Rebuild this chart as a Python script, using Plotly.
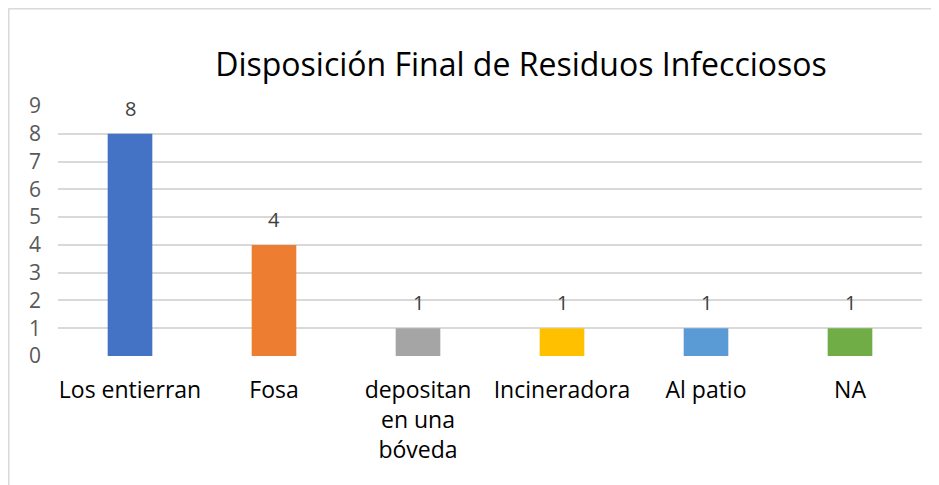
import plotly.graph_objects as go

categories = ["Los entierran", "Fosa", "depositan<br>en una<br>bóveda", "Incineradora", "Al patio", "NA"]
values = [8, 4, 1, 1, 1, 1]
colors = ["#4472C4", "#ED7D31", "#A5A5A5", "#FFC000", "#5B9BD5", "#70AD47"]
y_ticks = list(range(0, 10))
title_text = "Disposición Final de Residuos Infecciosos"

FONT = "Open Sans"

# page body has an 8px margin, so figure origin sits at screen (8, 8)
OFF = 8
W, H = 939 - OFF, 485 - OFF
L, R, T = 58 - OFF, 17, 106 - OFF
pw, ph = 864, 250
B = H - T - ph

def px(x):
    return (x - OFF - L) / pw

def py(y):
    return (H - B - (y - OFF)) / ph

fig = go.Figure()
fig.add_trace(go.Bar(
    x=categories, y=values, marker=dict(color=colors, line=dict(width=0)),
    width=0.31, hoverinfo="skip",
))

for c, v in zip(categories, values):
    fig.add_annotation(x=c, y=v, text=str(v), showarrow=False, yanchor="bottom",
                       yshift=10, font=dict(family=FONT, size=20, color="#404040"))

# chart-area border (top and left edges visible in the reference)
fig.add_shape(type="line", xref="paper", yref="paper", x0=px(8.5), x1=px(945), y0=py(8.5), y1=py(8.5),
              line=dict(color="#D9D9D9", width=2))
fig.add_shape(type="line", xref="paper", yref="paper", x0=px(8.5), x1=px(8.5), y0=py(8.5), y1=py(490),
              line=dict(color="#D9D9D9", width=2))

fig.update_layout(
    width=W, height=H,
    margin=dict(l=L, r=R, t=T, b=B),
    paper_bgcolor="white", plot_bgcolor="white",
    showlegend=False,
    title=dict(text=title_text, x=px(521), xref="paper", xanchor="center",
               y=1 - (65 - OFF) / H, yref="container", yanchor="middle",
               font=dict(family=FONT, size=32, color="#000000")),
    font=dict(family=FONT),
    xaxis=dict(showgrid=False, showline=False, ticks="", zeroline=False,
               tickfont=dict(family=FONT, size=23, color="#000000"),
               ticklabelstandoff=18),
    yaxis=dict(range=[0, 9], tickvals=y_ticks, showgrid=True, gridcolor="#D9D9D9", gridwidth=1.5,
               zeroline=False, showline=False, ticks="",
               tickfont=dict(family=FONT, size=21, color="#595959"),
               ticklabelstandoff=16),
)
fig.write_html("out.html")
